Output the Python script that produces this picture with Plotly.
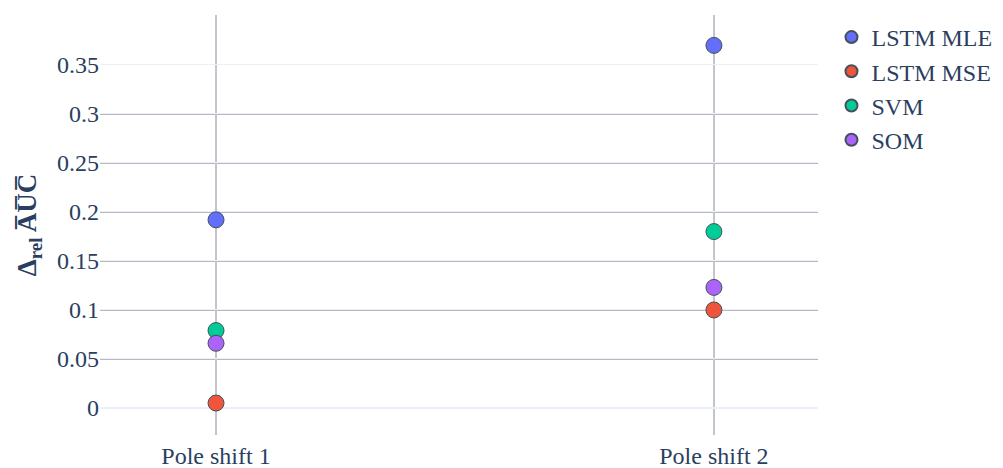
import plotly.graph_objects as go

categories = ["Pole shift 1", "Pole shift 2"]
series_names = ["LSTM MLE", "LSTM MSE", "SVM", "SOM"]
lstm_mle = [0.192, 0.370]
lstm_mse = [0.005, 0.100]
svm = [0.079, 0.180]
som = [0.066, 0.123]
y_tickvals = [0, 0.05, 0.1, 0.15, 0.2, 0.25, 0.3, 0.35]
y_ticktext = ["0", "0.05", "0.1", "0.15", "0.2", "0.25", "0.3", "0.35"]
dark_grid_vals = [0.05, 0.1, 0.15, 0.2, 0.25, 0.3]

colors = ["#636EFA", "#EF553B", "#00CC96", "#AB63FA"]
values = [lstm_mle, lstm_mse, svm, som]
serif = "Liberation Serif"

fig = go.Figure()
for name, vals, c in zip(series_names, values, colors):
    fig.add_trace(go.Scatter(
        x=categories, y=vals, mode="markers", name=name,
        marker=dict(size=16, color=c, line=dict(width=1, color="#44505c")),
    ))

for v in dark_grid_vals:
    fig.add_shape(type="line", xref="paper", x0=0, x1=1, yref="y", y0=v, y1=v,
                  line=dict(color="#b8b9c0", width=2), layer="between")

fig.update_layout(
    template="plotly_white",
    width=1003, height=468,
    margin=dict(l=100, r=185, t=15, b=33, autoexpand=False),
    font=dict(family=serif, size=24, color="#2a3f5f"),
    showlegend=True,
    legend=dict(xref="container", yref="container", x=0.829, y=0.968,
                xanchor="left", yanchor="top",
                font=dict(family=serif, size=24), itemsizing="constant",
                tracegroupgap=0),
    xaxis=dict(range=[-0.233, 1.209], showgrid=True, gridcolor="#c4c5cc",
               gridwidth=2, tickfont=dict(family=serif, size=24), ticks="",
               zeroline=False, ticklabelstandoff=4, automargin=False),
    yaxis=dict(range=[-0.0276, 0.401], tickvals=y_tickvals, ticktext=y_ticktext,
               showgrid=True, gridcolor="#EBF0F8", gridwidth=1,
               zeroline=True, zerolinecolor="#EBF0F8", zerolinewidth=2,
               ticks="", automargin=False,
               tickfont=dict(family=serif, size=24),
               title=dict(text="<b>Δ<sub>rel</sub> A\u0305U\u0305C\u0305</b>",
                          font=dict(family=serif, size=27), standoff=12)),
)

fig.write_html("out.html")
